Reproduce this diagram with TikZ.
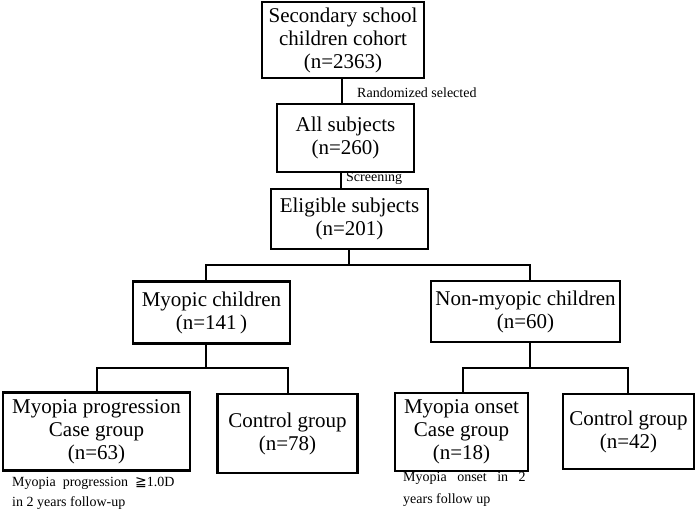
\documentclass[tikz,border=0pt]{standalone}
\usepackage{fontspec}
\setmainfont{Liberation Serif}
\newfontfamily\symfont{DejaVu Sans}
\begin{document}
\begin{tikzpicture}[x=1pt,y=-1pt,
  box/.style={draw,line width=2.8pt,align=center,inner sep=0pt,font=\fontsize{21}{23}\selectfont},
  conn/.style={line width=2.8pt},
  lbl/.style={inner sep=0pt,anchor=west,font=\fontsize{14}{16}\selectfont},
  note/.style={inner sep=0pt,anchor=west,font=\fontsize{14}{16}\selectfont}]
\useasboundingbox (0,0) rectangle (697,511);
\node[box,minimum width=162pt,minimum height=76pt] (top) at (343,40) {Secondary school\\children cohort\\(n=2363)};
\node[box,minimum width=137pt,minimum height=68pt] (all) at (345.5,138) {All subjects\\(n=260)};
\node[box,minimum width=157pt,minimum height=60pt] (elig) at (349.5,219) {Eligible subjects\\(n=201)};
\node[box,minimum width=157pt,minimum height=62pt] (myo) at (211.5,312.5) {Myopic children\\(n=141\,)};
\node[box,minimum width=189pt,minimum height=61pt] (non) at (525.5,311.5) {Non-myopic children\\(n=60)};
\node[box,minimum width=187pt,minimum height=78pt] (casel) at (96.5,431.5) {Myopia progression\\Case group\\(n=63)};
\node[box,minimum width=140pt,minimum height=79pt] (ctrll) at (287.5,433.5) {Control group\\(n=78)};
\node[box,minimum width=133pt,minimum height=78pt] (onset) at (461.5,432) {Myopia onset\\Case group\\(n=18)};
\node[box,minimum width=131pt,minimum height=75pt] (ctrlr) at (628.5,431.5) {Control group\\(n=42)};
\coordinate (j1) at (349,265);
\coordinate (j2) at (206,368);
\coordinate (j3) at (530,368);
\draw[conn] (top.south -| 342,0) -- (all.north -| 342,0);
\draw[conn] (all.south -| 341,0) -- (elig.north -| 341,0);
\draw[conn] (elig.south -| j1) -- (j1);
\draw[conn] (myo.north -| j2) -- (j1 -| j2) -- (j1 -| 530,0) -- (non.north -| 530,0);
\draw[conn] (myo.south -| j2) -- (j2);
\draw[conn] (casel.north -| 97,0) -- (j2 -| 97,0) -- (j2 -| 288,0) -- (ctrll.north -| 288,0);
\draw[conn] (non.south -| j3) -- (j3);
\draw[conn] (onset.north -| 463,0) -- (j3 -| 463,0) -- (j3 -| 628,0) -- (ctrlr.north -| 628,0);
\node[lbl] (l1) at (357,93) {Randomized selected};
\node[lbl] (l2) at (346,178) {Screening};
\node[note] (n1) at (12,483) {Myopia\ \ progression\ \ {\symfont ≧}1.0D};
\node[note] (n2) at (12,503) {in 2 years follow-up};
\node[note] (n3) at (403,478) {Myopia\ \ \ onset\ \ \ in\ \ \ 2};
\node[note] (n4) at (403,500) {years follow up};
\end{tikzpicture}
\end{document}
